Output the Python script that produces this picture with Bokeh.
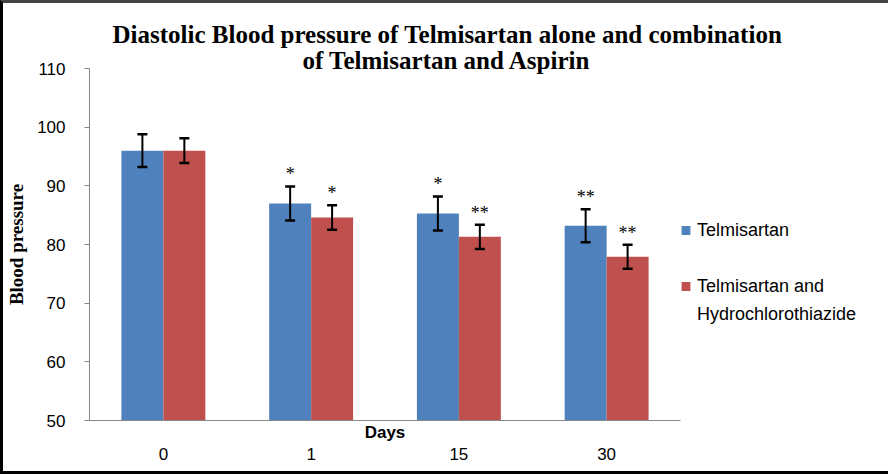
from bokeh.plotting import figure
from bokeh.models import (ColumnDataSource, Whisker, TeeHead, Legend, LegendItem, FactorRange,
                          Title, CategoricalAxis)
from bokeh.transform import dodge
from bokeh.core.properties import value
from bokeh.embed import file_html
from bokeh.resources import INLINE

days = ["0", "1", "15", "30"]
telmi = [96.0, 87.0, 85.3, 83.2]
telmi_err = [2.8, 2.9, 2.9, 2.8]
combo = [96.0, 84.6, 81.3, 77.9]
combo_err = [2.1, 2.1, 2.05, 2.05]
telmi_sig = ["", "*", "*", "**"]
combo_sig = ["", "*", "**", "**"]
series_names = ["Telmisartan", "Telmisartan and", "Hydrochlorothiazide"]
colors = ["#4F81BD", "#C0504D"]
y_ticks = [50, 60, 70, 80, 90, 100, 110]
title_lines = ["Diastolic Blood pressure of Telmisartan alone and combination",
               "of Telmisartan and Aspirin"]

src = ColumnDataSource(dict(
    days=days,
    t=telmi, t_up=[v + e for v, e in zip(telmi, telmi_err)], t_lo=[v - e for v, e in zip(telmi, telmi_err)],
    c=combo, c_up=[v + e for v, e in zip(combo, combo_err)], c_lo=[v - e for v, e in zip(combo, combo_err)],
    ts=telmi_sig, cs=combo_sig,
))

p = figure(x_range=FactorRange(*days, range_padding=0), y_range=(50, 110),
           frame_width=591, frame_height=352,
           output_backend="svg", toolbar_location=None,
           min_border_left=84, min_border_right=207, min_border_top=65, min_border_bottom=51)
p.title = None
p.styles = {"border-style": "solid", "border-width": "3px",
            "border-color": "#444444 #7f7f7f #000000 #000000"}
p.outline_line_color = None
p.grid.grid_line_color = None

w = 0.284
rb = p.vbar(x=dodge("days", -w / 2, range=p.x_range), top="t", bottom=50, width=w, source=src,
            fill_color=colors[0], line_color=None)
rr = p.vbar(x=dodge("days", w / 2, range=p.x_range), top="c", bottom=50, width=w, source=src,
            fill_color=colors[1], line_color=None)
blank = p.vbar(x=dodge("days", 0, range=p.x_range), top="t", bottom=50, width=0, source=src,
               fill_alpha=0, line_alpha=0)

for xo, up, lo in [(-w / 2, "t_up", "t_lo"), (w / 2, "c_up", "c_lo")]:
    wh = Whisker(base=dodge("days", xo, range=p.x_range), upper=up, lower=lo, source=src,
                 line_color="black", line_width=2, level="overlay",
                 upper_head=TeeHead(size=10, line_width=2.5, line_color="black"),
                 lower_head=TeeHead(size=10, line_width=2.5, line_color="black"))
    p.add_layout(wh)

for xo, up, col in [(-w / 2, "t_up", "ts"), (w / 2, "c_up", "cs")]:
    p.text(x=dodge("days", xo, range=p.x_range), y=up, text=col, source=src,
           text_align="center", text_baseline="bottom", y_offset=-2,
           text_font=value("Liberation Serif"), text_font_size="18px", text_color="black")

p.yaxis.ticker = y_ticks
p.yaxis.axis_line_color = "#868686"
p.yaxis.major_tick_line_color = "#868686"
p.yaxis.major_tick_out = 5
p.yaxis.major_tick_in = 0
p.yaxis.minor_tick_line_color = None
p.yaxis.major_label_text_font = "Liberation Sans"
p.yaxis.major_label_text_font_size = "17px"
p.yaxis.major_label_text_color = "black"
p.yaxis.major_label_standoff = 19
p.yaxis.axis_label = "Blood pressure"
p.yaxis.axis_label_text_font = "Liberation Serif"
p.yaxis.axis_label_text_font_style = "bold"
p.yaxis.axis_label_text_font_size = "19px"
p.yaxis.axis_label_text_color = "black"
p.yaxis.axis_label_standoff = 7

# first x axis: line + "Days" title, no tick labels
xa = p.xaxis[0]
xa.axis_line_color = "#868686"
xa.major_tick_line_color = None
xa.minor_tick_line_color = None
xa.major_tick_out = 0
xa.major_tick_in = 0
xa.major_label_text_font_size = "0px"
xa.major_label_standoff = 0
xa.axis_label = "Days"
xa.axis_label_text_font = "Liberation Sans"
xa.axis_label_text_font_style = "bold"
xa.axis_label_text_font_size = "17px"
xa.axis_label_text_color = "black"
xa.axis_label_standoff = 2

# second x axis: tick labels only
xb = CategoricalAxis(axis_line_color=None, major_tick_line_color=None, minor_tick_line_color=None,
                     major_tick_out=0, major_tick_in=0,
                     major_label_text_font="Liberation Sans", major_label_text_font_size="17px",
                     major_label_text_color="black", major_label_standoff=3)
p.add_layout(xb, "below")

for line, off, so in [(title_lines[1], 213, -10), (title_lines[0], 23, 4)]:
    p.add_layout(Title(text=line, align="left", offset=off, text_font="Liberation Serif",
                       text_font_size="25px", text_font_style="bold", text_color="black",
                       standoff=so), "above")

legend = Legend(items=[LegendItem(label=" ", renderers=[blank]),
                       LegendItem(label=" ", renderers=[blank]),
                       LegendItem(label=series_names[0], renderers=[rb]),
                       LegendItem(label=" ", renderers=[blank]),
                       LegendItem(label=series_names[1], renderers=[rr]),
                       LegendItem(label=series_names[2], renderers=[blank])],
                location="center_left", label_text_font="Liberation Sans", label_text_font_size="18px",
                label_text_color="black", label_height=21,
                background_fill_alpha=0, border_line_color=None, glyph_width=11, glyph_height=11,
                spacing=7, label_standoff=6, padding=0, margin=0)
p.add_layout(legend, "right")

open("out.html", "w").write(file_html(p, INLINE))
